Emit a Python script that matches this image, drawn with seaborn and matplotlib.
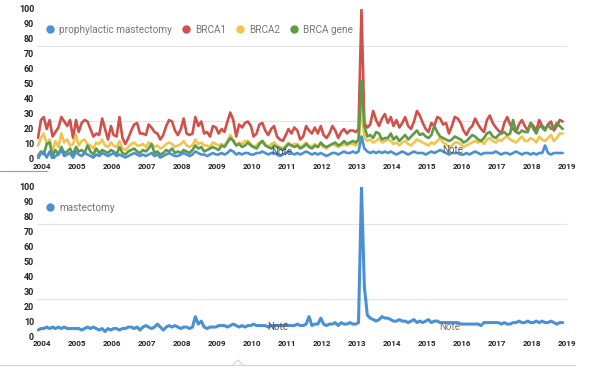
import pandas as pd
import numpy as np
import matplotlib
matplotlib.use('Agg')
import matplotlib.pyplot as plt
import seaborn as sns
from matplotlib.lines import Line2D
from matplotlib.ticker import MultipleLocator

# monthly interest, Jan 2004 .. Jan 2019
brca1 = [14, 26, 28, 20, 26, 15, 18, 21, 28, 25, 22, 26,
         14, 26, 18, 24, 26, 25, 20, 15, 17, 16, 27, 20,
         13, 22, 16, 15, 28, 14, 10, 14, 19, 23, 24, 17,
         17, 16, 23, 21, 18, 17, 13, 16, 22, 26, 25, 19,
         16, 20, 27, 17, 16, 17, 28, 22, 25, 17, 18, 15,
         22, 21, 17, 20, 18, 25, 31, 26, 15, 23, 21, 24,
         25, 22, 15, 17, 23, 24, 19, 16, 20, 22, 15, 13,
         12, 16, 20, 17, 21, 19, 13, 15, 22, 19, 17, 21,
         17, 22, 16, 14, 17, 22, 19, 14, 18, 20, 17, 19,
         19, 18, 20, 100, 24, 21, 23, 32, 26, 22, 27, 30,
         24, 28, 22, 26, 21, 24, 28, 22, 20, 25, 32, 29,
         24, 20, 18, 24, 22, 28, 27, 23, 24, 17, 22, 28,
         27, 24, 19, 16, 20, 22, 27, 23, 20, 18, 26, 29,
         24, 21, 19, 17, 24, 28, 23, 20, 18, 23, 26, 22,
         19, 24, 22, 19, 26, 22, 20, 23, 25, 19, 22, 26,
         25]
brca2 = [9, 14, 17, 10, 13, 5, 12, 8, 17, 11, 13, 9,
         10, 16, 9, 12, 13, 10, 9, 7, 11, 10, 13, 9,
         8, 11, 9, 8, 12, 7, 6, 8, 10, 11, 9, 9,
         10, 8, 11, 10, 8, 9, 7, 8, 10, 11, 10, 8,
         9, 10, 12, 9, 8, 9, 13, 10, 11, 9, 9, 8,
         11, 10, 9, 10, 9, 12, 16, 13, 9, 11, 10, 12,
         12, 10, 8, 9, 11, 12, 10, 8, 10, 11, 9, 8,
         7, 9, 11, 9, 10, 10, 8, 9, 11, 9, 8, 10,
         8, 10, 8, 7, 9, 10, 9, 8, 9, 10, 9, 10,
         10, 9, 11, 35, 14, 12, 13, 11, 12, 14, 11, 12,
         13, 12, 10, 11, 9, 11, 12, 10, 9, 11, 13, 12,
         11, 10, 9, 11, 10, 12, 14, 11, 10, 8, 9, 11,
         11, 10, 8, 9, 10, 11, 12, 11, 12, 10, 13, 14,
         12, 11, 13, 12, 14, 15, 13, 12, 11, 13, 15, 12,
         12, 14, 13, 11, 15, 13, 12, 14, 16, 12, 14, 17,
         17]
brca_gene = [2, 5, 3, 10, 11, 2, 6, 3, 8, 4, 5, 7,
             3, 8, 5, 6, 4, 9, 5, 3, 7, 4, 6, 5,
             4, 6, 5, 3, 8, 4, 3, 5, 6, 7, 5, 4,
             6, 5, 7, 10, 4, 5, 3, 4, 6, 5, 7, 4,
             5, 4, 6, 5, 4, 6, 9, 7, 8, 5, 6, 7,
             8, 7, 6, 9, 8, 11, 14, 12, 9, 10, 8, 9,
             11, 9, 8, 7, 10, 12, 9, 8, 7, 9, 8, 7,
             6, 8, 10, 9, 8, 9, 7, 8, 10, 8, 7, 9,
             8, 11, 9, 8, 9, 10, 11, 9, 10, 12, 10, 11,
             12, 11, 13, 52, 22, 15, 16, 14, 18, 17, 13, 14,
             14, 17, 13, 15, 12, 14, 16, 13, 15, 17, 19, 16,
             17, 15, 14, 16, 22, 18, 15, 14, 13, 12, 13, 15,
             14, 13, 11, 12, 14, 16, 15, 13, 12, 14, 17, 18,
             15, 14, 16, 17, 18, 16, 17, 26, 18, 17, 19, 18,
             18, 24, 20, 17, 22, 21, 19, 23, 20, 21, 24, 22,
             20]
prophylactic = [0, 4, 5, 1, 5, 0, 2, 3, 6, 2, 3, 4,
                1, 5, 3, 2, 4, 3, 2, 1, 3, 2, 4, 3,
                2, 3, 4, 2, 3, 2, 1, 2, 3, 4, 3, 2,
                3, 2, 3, 4, 2, 3, 1, 2, 3, 4, 3, 2,
                2, 3, 4, 3, 2, 3, 5, 4, 3, 3, 2, 3,
                4, 3, 3, 4, 3, 4, 6, 5, 3, 4, 3, 4,
                4, 3, 3, 4, 4, 5, 4, 3, 4, 4, 3, 2,
                3, 4, 5, 4, 3, 4, 3, 4, 5, 4, 3, 4,
                3, 4, 3, 2, 3, 4, 4, 3, 4, 5, 4, 4,
                5, 4, 5, 15, 7, 5, 4, 5, 4, 5, 4, 5,
                4, 5, 4, 3, 4, 5, 4, 3, 4, 5, 4, 4,
                4, 3, 4, 5, 4, 5, 6, 5, 4, 3, 4, 4,
                4, 3, 3, 4, 3, 4, 5, 4, 3, 4, 4, 4,
                4, 5, 4, 3, 4, 4, 3, 4, 5, 4, 3, 4,
                4, 3, 4, 3, 4, 4, 9, 4, 3, 4, 4, 4,
                4]
mastectomy = [4, 5, 5, 6, 5, 6, 5, 6, 5, 6, 5, 5,
              5, 5, 5, 4, 5, 6, 5, 6, 5, 4, 5, 3,
              5, 4, 5, 5, 4, 5, 5, 6, 6, 5, 6, 4,
              6, 7, 6, 5, 6, 8, 6, 4, 6, 7, 6, 7,
              6, 5, 6, 6, 5, 6, 13, 8, 10, 6, 5, 6,
              6, 6, 7, 7, 7, 6, 7, 8, 7, 6, 7, 6,
              7, 7, 8, 7, 7, 7, 7, 6, 7, 7, 7, 7,
              7, 8, 7, 7, 7, 8, 7, 7, 8, 13, 7, 8,
              8, 12, 8, 7, 8, 8, 9, 7, 9, 8, 8, 9,
              8, 8, 9, 100, 33, 14, 12, 11, 10, 11, 13, 12,
              12, 11, 10, 10, 11, 10, 10, 9, 10, 11, 9, 10,
              9, 10, 11, 9, 10, 10, 9, 9, 9, 9, 9, 9,
              9, 8, 8, 8, 8, 8, 8, 8, 7, 9, 9, 9,
              9, 9, 9, 8, 9, 8, 8, 9, 9, 10, 9, 9,
              10, 9, 9, 10, 9, 10, 9, 9, 10, 9, 8, 9,
              9]

months = pd.date_range('2004-01-01', periods=len(brca1), freq='MS')
years = list(range(2004, 2020))
top_terms = ['prophylactic mastectomy', 'BRCA1', 'BRCA2', 'BRCA gene']
colors = {'prophylactic mastectomy': '#4a90d6', 'BRCA1': '#d2504a',
          'BRCA2': '#f0c54f', 'BRCA gene': '#5e9b48', 'mastectomy': '#4a90d6'}

top_df = pd.DataFrame({'month': months, 'prophylactic mastectomy': prophylactic,
                       'BRCA1': brca1, 'BRCA2': brca2, 'BRCA gene': brca_gene})
top_df = top_df.melt(id_vars='month', var_name='term', value_name='interest')
bot_df = pd.DataFrame({'month': months, 'term': 'mastectomy', 'interest': mastectomy})

sns.set_style('white')
plt.rcParams['font.family'] = ['Roboto', 'DejaVu Sans']

W, H = 593, 375
fig = plt.figure(figsize=(W / 100, H / 100), dpi=100)
ax1 = fig.add_axes([37 / W, 1 - 159 / H, 530 / W, 150 / H])
ax2 = fig.add_axes([37 / W, 1 - 336 / H, 530 / W, 149 / H])

# draw order: red first so others sit on top like the original
order = ['BRCA1', 'BRCA2', 'BRCA gene', 'prophylactic mastectomy']
sns.lineplot(ax=ax1, data=top_df, x='month', y='interest', hue='term',
             hue_order=order, palette=colors, lw=1.9, legend=False)
sns.lineplot(ax=ax2, data=bot_df, x='month', y='interest', hue='term',
             palette=colors, lw=2.2, legend=False)

day = pd.Timedelta(days=10.4)
for ax in (ax1, ax2):
    ax.set_xlim(months[0] - day, months[-1] + 4 * day)
    ax.set_ylim(0, 100)
    ax.set_yticks(range(0, 101, 10))
    ax.yaxis.set_minor_locator(MultipleLocator(25))
    ax.grid(which='minor', axis='y', color='#e4e4e4', lw=0.8)
    ax.axhline(0, color='#c8c8c8', lw=0.8, zorder=0)
    ax.set_xticks([pd.Timestamp(f'{y}-02-15') for y in years])
    ax.set_xticklabels([str(y) for y in years])
    ax.tick_params(axis='y', which='both', length=0, labelsize=6.5,
                   labelcolor='#222222', pad=2)
    ax.tick_params(axis='x', which='both', length=0, labelsize=5.8,
                   labelcolor='#222222', pad=3)
    for lab in ax.get_xticklabels() + ax.get_yticklabels():
        lab.set_fontweight('bold')
    ax.set_xlabel('')
    ax.set_ylabel('')
    sns.despine(ax=ax, left=True, bottom=True)

def legend_handles(terms):
    return [Line2D([], [], marker='o', ls='', ms=5, color=colors[t]) for t in terms]

leg = ax1.legend(legend_handles(top_terms), top_terms, ncol=4, frameon=False,
                 loc='upper left', bbox_to_anchor=(0.0, 0.955), fontsize=7.2,
                 handlelength=0.8, handletextpad=0.5, columnspacing=1.0,
                 labelcolor='#777777')
ax2.legend(legend_handles(['mastectomy']), ['mastectomy'], frameon=False,
           loc='upper left', bbox_to_anchor=(0.0, 0.955), fontsize=7.2,
           handlelength=0.8, handletextpad=0.5, labelcolor='#777777')

# Google Trends "Note" markers
fig.text(282 / W, 1 - 152 / H, 'Note', fontsize=7, color='#3d4b6b', ha='center', va='center')
fig.text(453 / W, 1 - 150 / H, 'Note', fontsize=7, color='#555555', ha='center', va='center')
fig.text(278 / W, 1 - 327 / H, 'Note', fontsize=7, color='#555555', ha='center', va='center')
fig.text(450 / W, 1 - 327 / H, 'Note', fontsize=7, color='#777777', ha='center', va='center')

# panel separator lines
fig.add_artist(Line2D([0, 47 / W], [1 - 171 / H] * 2, color='#9a9a9a', lw=0.8))
fig.add_artist(Line2D([0, 575 / W], [1 - 365 / H] * 2, color='#c9d5df', lw=0.8))
fig.add_artist(Line2D([233 / W, 238 / W, 243 / W], [1 - 365 / H, 1 - 360 / H, 1 - 365 / H],
                      color='#c9d5df', lw=0.8))

fig.savefig('out.png', dpi=100, facecolor='white')
